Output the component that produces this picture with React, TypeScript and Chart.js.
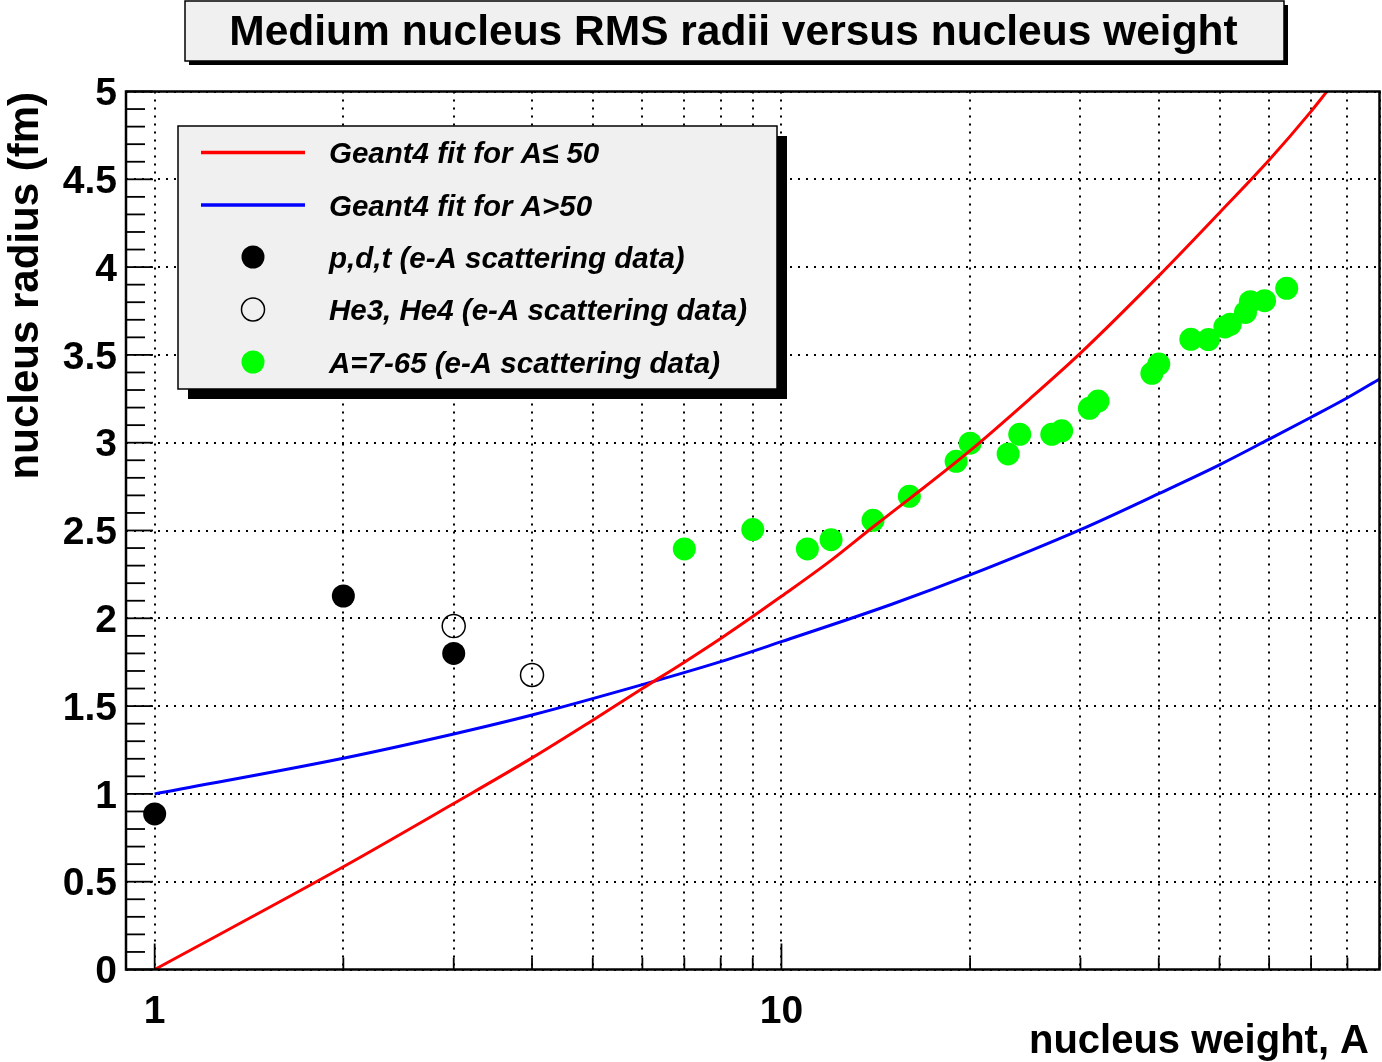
import React, { useEffect, useRef } from "react";
import { Chart, registerables } from "chart.js";

Chart.register(...registerables);

// ---- data ----
const redA = [1, 2, 3, 4, 5, 6, 7, 8, 9, 10, 12, 14, 16, 20, 25, 30, 40, 50, 60, 70, 74];
const redR = [0, 0.585, 0.945, 1.205, 1.42, 1.6, 1.75, 1.885, 2.01, 2.125, 2.33, 2.52, 2.68, 2.955, 3.255, 3.51, 3.95, 4.31, 4.61, 4.887, 4.995];

const blueA = [1, 2, 3, 4, 6, 8, 10, 15, 20, 30, 40, 50, 60, 70, 80, 90];
const blueR = [1.0, 1.203, 1.341, 1.449, 1.622, 1.753, 1.867, 2.08, 2.247, 2.505, 2.71, 2.874, 3.02, 3.145, 3.256, 3.363];

const pdtA = [1, 2, 3];
const pdtR = [0.886, 2.127, 1.8];

const heA = [3, 4];
const heR = [1.956, 1.677];

const medA = [7, 9, 11, 12, 14, 16, 19, 20, 23, 24, 27, 28, 31, 32, 39, 40, 45, 48, 51, 52, 55, 56, 59, 64];
const medR = [2.395, 2.505, 2.395, 2.448, 2.558, 2.695, 2.894, 2.997, 2.936, 3.048, 3.048, 3.068, 3.196, 3.237, 3.395, 3.448, 3.589, 3.587, 3.659, 3.674, 3.742, 3.803, 3.809, 3.879];

const xGridTicks = [1, 2, 3, 4, 5, 6, 7, 8, 9, 10, 20, 30, 40, 50, 60, 70, 80, 90];
const xLabelTicks = [1, 10];
const xMin = 0.9;
const xMax = 90;
const yMin = 0;
const yMax = 5;
const yStep = 0.5;
const yMinorStep = 0.1;

const titleText = "Medium nucleus RMS radii versus nucleus weight";
const xTitle = "nucleus weight, A";
const yTitle = "nucleus radius (fm)";
const legendLabels = [
  "Geant4 fit for A\u2264 50",
  "Geant4 fit for A>50",
  "p,d,t (e-A scattering data)",
  "He3, He4 (e-A scattering data)",
  "A=7-65 (e-A scattering data)",
];

const RED = "#ff0000";
const BLUE = "#0000ff";
const GREEN = "#00ff00";
const FONT = "'Liberation Sans', Arial, Helvetica, sans-serif";

const pts = (xs: number[], ys: number[]) => xs.map((x, i) => ({ x, y: ys[i] }));

const decorPlugin = {
  id: "rootDecor",
  beforeDraw(chart: any) {
    const { ctx, width, height } = chart;
    ctx.save();
    ctx.fillStyle = "#ffffff";
    ctx.fillRect(0, 0, width, height);
    ctx.restore();
  },
  afterDatasetsDraw(chart: any) {
    const { ctx, chartArea: ca, scales } = chart;
    const xs = scales.x;
    const ys = scales.y;
    ctx.save();
    ctx.strokeStyle = "#000";
    ctx.lineWidth = 1.8;
    ctx.setLineDash([]);
    // y ticks (inside) and y tick labels
    const nMinor = Math.round((yMax - yMin) / yMinorStep);
    const every = Math.round(yStep / yMinorStep);
    ctx.fillStyle = "#000";
    ctx.font = `bold 39px ${FONT}`;
    ctx.textAlign = "right";
    ctx.textBaseline = "middle";
    for (let i = 0; i <= nMinor; i++) {
      const v = yMin + i * yMinorStep;
      const y = ys.getPixelForValue(v);
      const major = i % every === 0;
      ctx.beginPath();
      ctx.moveTo(ca.left, y);
      ctx.lineTo(ca.left + (major ? 27 : 19), y);
      ctx.stroke();
      if (major) {
        const label = String(Math.round(v * 10) / 10);
        ctx.fillText(label, ca.left - 9, y + 3);
      }
    }
    // x ticks (inside)
    for (const v of xGridTicks) {
      const x = xs.getPixelForValue(v);
      const major = xLabelTicks.includes(v);
      ctx.beginPath();
      ctx.moveTo(x, ca.bottom);
      ctx.lineTo(x, ca.bottom - (major ? 26 : 12));
      ctx.stroke();
    }
    // frame
    ctx.lineWidth = 2.5;
    ctx.strokeRect(ca.left, ca.top, ca.right - ca.left, ca.bottom - ca.top);

    // title box
    const tb = { x: 185, y: 1, w: 1099, h: 60 };
    ctx.fillStyle = "#000";
    ctx.fillRect(tb.x + 4, tb.y + 4, tb.w, tb.h);
    ctx.fillStyle = "#f0f0f0";
    ctx.fillRect(tb.x, tb.y, tb.w, tb.h);
    ctx.lineWidth = 1.5;
    ctx.strokeRect(tb.x, tb.y, tb.w, tb.h);
    ctx.fillStyle = "#000";
    ctx.font = `bold 42.5px ${FONT}`;
    ctx.textAlign = "center";
    ctx.textBaseline = "alphabetic";
    ctx.fillText(titleText, 733.5, 45);

    // legend box
    const lb = { x: 178, y: 126, w: 599, h: 263 };
    ctx.fillStyle = "#000";
    ctx.fillRect(lb.x + 10, lb.y + 10, lb.w, lb.h);
    ctx.fillStyle = "#f0f0f0";
    ctx.fillRect(lb.x, lb.y, lb.w, lb.h);
    ctx.lineWidth = 1.5;
    ctx.strokeRect(lb.x, lb.y, lb.w, lb.h);
    const rows = [152.5, 205, 257, 309.5, 362];
    ctx.lineWidth = 3.5;
    ctx.strokeStyle = RED;
    ctx.beginPath();
    ctx.moveTo(201, rows[0]);
    ctx.lineTo(305, rows[0]);
    ctx.stroke();
    ctx.strokeStyle = BLUE;
    ctx.beginPath();
    ctx.moveTo(201, rows[1]);
    ctx.lineTo(305, rows[1]);
    ctx.stroke();
    ctx.fillStyle = "#000";
    ctx.beginPath();
    ctx.arc(253, rows[2], 11.5, 0, Math.PI * 2);
    ctx.fill();
    ctx.strokeStyle = "#000";
    ctx.lineWidth = 1.5;
    ctx.beginPath();
    ctx.arc(253, rows[3], 11.5, 0, Math.PI * 2);
    ctx.stroke();
    ctx.fillStyle = GREEN;
    ctx.beginPath();
    ctx.arc(253, rows[4], 11.5, 0, Math.PI * 2);
    ctx.fill();
    ctx.fillStyle = "#000";
    ctx.font = `italic bold 29.5px ${FONT}`;
    ctx.textAlign = "left";
    ctx.textBaseline = "alphabetic";
    legendLabels.forEach((t, i) => ctx.fillText(t, 329, rows[i] + 10.5));

    // axis titles
    ctx.font = `bold 40px ${FONT}`;
    ctx.textAlign = "right";
    ctx.fillText(xTitle, 1369, 1053);
    ctx.save();
    ctx.translate(37.5, 92);
    ctx.rotate(-Math.PI / 2);
    ctx.font = `bold 42px ${FONT}`;
    ctx.textAlign = "right";
    ctx.fillText(yTitle, 0, 0);
    ctx.restore();

    ctx.restore();
  },
};

export default function App() {
  const canvasRef = useRef<HTMLCanvasElement | null>(null);

  useEffect(() => {
    document.body.style.margin = "0";
    const canvas = canvasRef.current;
    if (!canvas) return;
    const tickFont = { family: FONT, size: 39, weight: "bold" as const };
    const chart = new Chart(canvas, {
      type: "scatter",
      data: {
        datasets: [
          {
            label: legendLabels[0],
            data: pts(redA, redR),
            showLine: true,
            borderColor: RED,
            borderWidth: 3,
            pointRadius: 0,
            cubicInterpolationMode: "monotone",
          },
          {
            label: legendLabels[1],
            data: pts(blueA, blueR),
            showLine: true,
            borderColor: BLUE,
            borderWidth: 3,
            pointRadius: 0,
            cubicInterpolationMode: "monotone",
          },
          {
            label: legendLabels[2],
            data: pts(pdtA, pdtR),
            pointRadius: 11.5,
            pointBackgroundColor: "#000",
            pointBorderWidth: 0,
            borderColor: "#000",
          },
          {
            label: legendLabels[3],
            data: pts(heA, heR),
            pointRadius: 11.5,
            pointBackgroundColor: "rgba(0,0,0,0)",
            pointBorderColor: "#000",
            pointBorderWidth: 1.5,
          },
          {
            label: legendLabels[4],
            data: pts(medA, medR),
            pointRadius: 11.5,
            pointBackgroundColor: GREEN,
            pointBorderWidth: 0,
            borderColor: GREEN,
          },
        ],
      },
      options: {
        responsive: false,
        animation: false,
        devicePixelRatio: 1,
        layout: { autoPadding: false, padding: { left: 0, top: 91.5, right: 2.5, bottom: 0 } },
        plugins: {
          legend: { display: false },
          title: { display: false },
          tooltip: { enabled: false },
        },
        scales: {
          x: {
            type: "logarithmic",
            min: xMin,
            max: xMax,
            afterBuildTicks: (scale: any) => {
              scale.ticks = xGridTicks.map((v) => ({ value: v }));
            },
            afterFit: (scale: any) => {
              scale.height = 92.5;
              scale.paddingLeft = 0;
              scale.paddingRight = 0;
            },
            ticks: {
              autoSkip: false,
              maxRotation: 0,
              minRotation: 0,
              padding: 19,
              color: "#000",
              font: tickFont,
              callback: (v: any) => (xLabelTicks.includes(Number(v)) ? String(v) : ""),
            },
            grid: { color: "#000", lineWidth: 2, drawTicks: false },
            border: { display: false, dash: [2, 6] },
          },
          y: {
            type: "linear",
            min: yMin,
            max: yMax,
            afterFit: (scale: any) => {
              scale.width = 126;
              scale.paddingTop = 0;
              scale.paddingBottom = 0;
            },
            ticks: {
              stepSize: yStep,
              display: false,
            },
            grid: { color: "#000", lineWidth: 2, drawTicks: false },
            border: { display: false, dash: [2, 6] },
          },
        },
      },
      plugins: [decorPlugin],
    } as any);
    return () => chart.destroy();
  }, []);

  return (
    <div style={{ width: 1382, height: 1062, position: "relative" }}>
      <canvas ref={canvasRef} width={1382} height={1062} style={{ display: "block" }} />
    </div>
  );
}
